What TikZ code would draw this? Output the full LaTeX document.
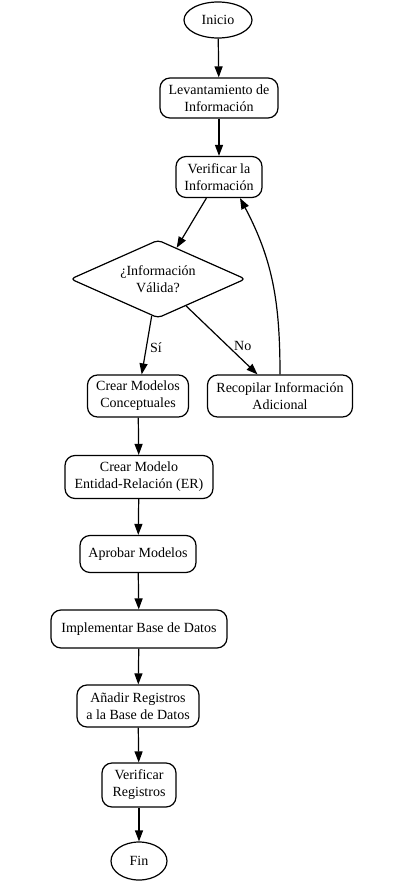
\documentclass[tikz,border=0pt]{standalone}
\usepackage{fontspec}
\setmainfont{Liberation Serif}
\usepackage{tikz}
\usetikzlibrary{arrows.meta, positioning, shapes.geometric}

\tikzset{
	caja/.style={draw, rounded corners=10bp, align=center, inner sep=2bp, line width=1.2bp},
	elipse/.style={draw, ellipse, inner sep=1bp, line width=1.2bp},
	rombo/.style={draw, diamond, aspect=2.2, inner sep=0pt, align=center, rounded corners=4bp, line width=1.2bp},
	flecha/.style={-{Triangle[length=11bp,width=8bp]}, line width=1.2bp}
}

\begin{document}
\begin{tikzpicture}[x=1bp, y=-1bp, font=\fontsize{14bp}{17bp}\selectfont]

		\useasboundingbox (0,0) rectangle (400,882);

		% Inicio
		\node[elipse, minimum width=68bp, minimum height=36bp] (ini) at (218,20) {Inicio};

		% Recogida y verificacion
		\node[caja, minimum width=118bp, minimum height=40bp] (lev) at (219,98) {Levantamiento de\\Información};
		\node[caja, minimum width=86bp, minimum height=41bp] (ver) at (219,177) {Verificar la\\Información};

		% Decision
		\node[rombo, minimum width=175bp, minimum height=78bp] (dia) at (158,279) {¿Información\\Válida?};

		% Ramas
		\node[caja, minimum width=101bp, minimum height=42bp] (cmc) at (138,396) {Crear Modelos\\Conceptuales};
		\node[caja, minimum width=145bp, minimum height=42bp] (rec) at (280,396) {Recopilar Información\\Adicional};

		% Cadena final
		\node[caja, minimum width=148bp, minimum height=43bp] (cer) at (139,477) {Crear Modelo\\Entidad-Relación (ER)};
		\node[caja, minimum width=116bp, minimum height=37bp] (apr) at (138,554) {Aprobar Modelos};
		\node[caja, minimum width=176bp, minimum height=38bp] (imp) at (139,629) {Implementar Base de Datos};
		\node[caja, minimum width=122bp, minimum height=42bp] (ana) at (138,706) {Añadir Registros\\a la Base de Datos};
		\node[caja, minimum width=74bp, minimum height=44bp] (vre) at (139,785) {Verificar\\Registros};

		% Fin
		\node[elipse, minimum width=56bp, minimum height=38bp] (fin) at (139,861) {Fin};

		% Flechas
		\draw[flecha] (ini) -- (lev);
		\draw[flecha] (lev) -- (ver);
		\draw[flecha] (ver) -- (dia);
		\draw[flecha] (dia) -- node[right, pos=0.55] {Sí} (cmc);
		\draw[flecha] (dia) -- node[pos=0.59, right=2bp] {No} (rec);
		\draw[flecha] (rec.north) to[out=90, in=-62] ([xshift=21bp]ver.south);
		\draw[flecha] (cmc) -- (cer);
		\draw[flecha] (cer) -- (apr);
		\draw[flecha] (apr) -- (imp);
		\draw[flecha] (imp) -- (ana);
		\draw[flecha] (ana) -- (vre);
		\draw[flecha] (vre) -- (fin);

	\end{tikzpicture}
\end{document}
